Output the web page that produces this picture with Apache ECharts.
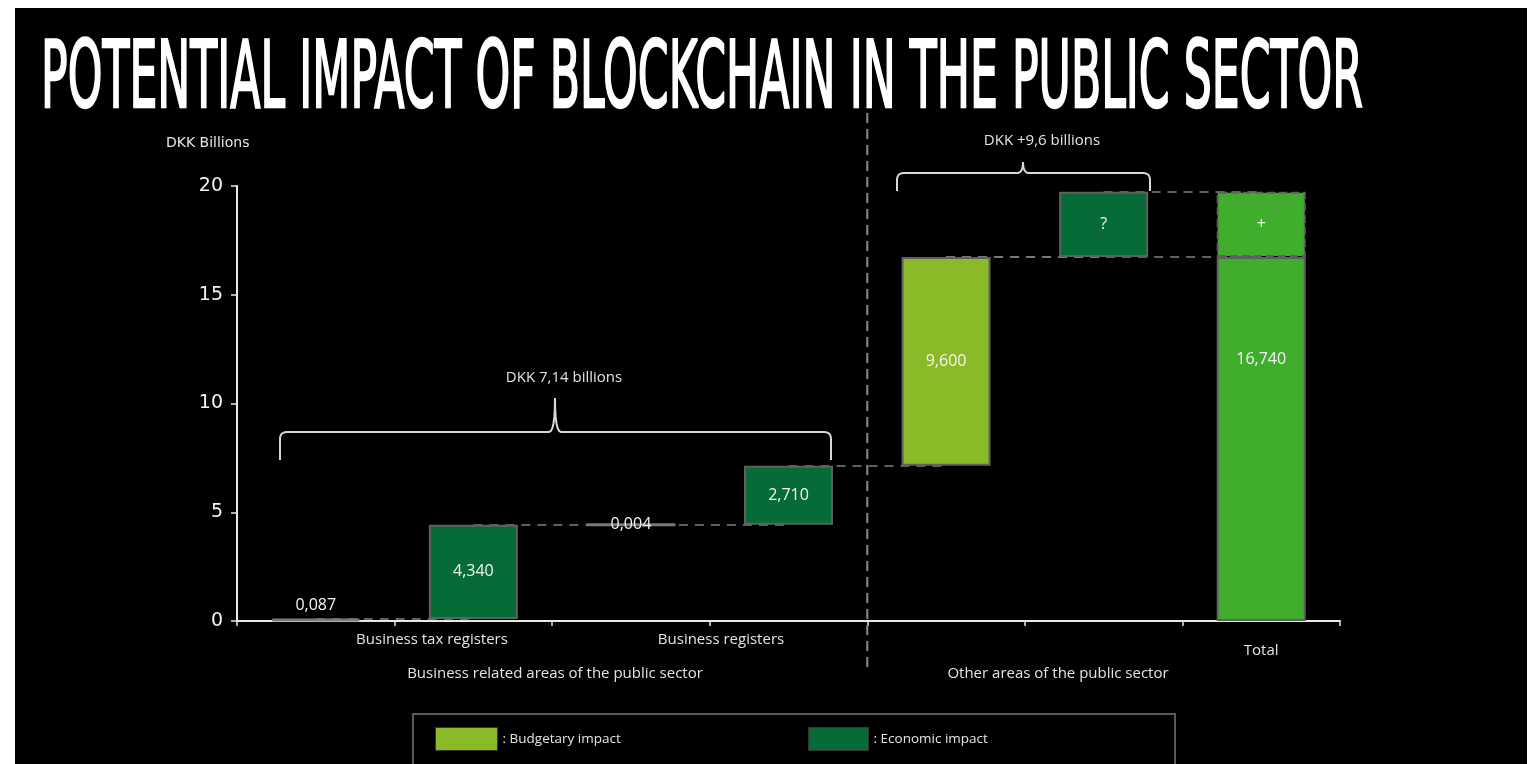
<!DOCTYPE html>
<html><head><meta charset="utf-8">
<script src="https://cdn.jsdelivr.net/npm/echarts@6/dist/echarts.min.js"></script>
<style>html,body{margin:0;padding:0;background:#fff;}#c{width:1535px;height:764px;}</style>
</head><body><div id="c"></div>
<script>
// ---- data ----
const categories = ['Tax A', 'Tax B', 'Reg A', 'Reg B', 'Other A', 'Other B', 'Total'];
const axisLabelNames = ['', '', '', '', '', '', 'Total'];
const greyValues = [0.087, null, 0.004, null, null, null, null];
const economicValues = [null, 4.34, null, 2.71, null, null, null];
const unknownEconomicValues = [null, null, null, null, null, 3.0, null];
const budgetaryValues = [null, null, null, null, 9.6, null, null];
const totalValues = [null, null, null, null, null, null, 16.74];
const plusValues = [null, null, null, null, null, null, 3.0];
const yTicks = [0, 5, 10, 15, 20];
const titleText = 'POTENTIAL IMPACT OF BLOCKCHAIN IN THE PUBLIC SECTOR';
const groupLabels = ['Business related areas of the public sector', 'Other areas of the public sector'];
const subLabels = ['Business tax registers', 'Business registers'];
const braceLabels = ['DKK 7,14 billions', 'DKK +9,6 billions'];
const unitLabel = 'DKK Billions';
const legendNames = ['Budgetary impact', 'Economic impact'];

// ---- derived waterfall bases ----
const stepValues = categories.map((c, i) =>
  (greyValues[i] || 0) + (economicValues[i] || 0) + (unknownEconomicValues[i] || 0) + (budgetaryValues[i] || 0));
const baseValues = [];
const cumValues = [];
let run = 0;
for (let i = 0; i < categories.length; i++) {
  if (totalValues[i] != null) { baseValues.push(0); cumValues.push((totalValues[i] || 0) + (plusValues[i] || 0)); continue; }
  baseValues.push(+run.toFixed(4));
  run += stepValues[i];
  cumValues.push(+run.toFixed(4));
}
const fmt = v => v.toFixed(3).replace('.', ',');

// ---- layout constants ----
const G = { left: 237, top: 186, right: 195, bottom: 143 };
const W = 1535, H = 764;
const plotW = W - G.left - G.right;
const band = plotW / categories.length;

const GREEN_LIGHT = '#8aba28', GREEN_DARK = '#066b36', GREEN_TOTAL = '#40ae2c', GREY = '#7a7a7a';
const BORDER = '#606060';
const TXT = '#e3e3e3';
const SANS = '"Open Sans", "Noto Sans", sans-serif';

const chart = echarts.init(document.getElementById('c'), null, { renderer: 'canvas' });

// connectors between consecutive bars
const connectors = [];
for (let i = 0; i < categories.length - 1; i++) {
  const lvl = cumValues[i];
  connectors.push([{ coord: [i, lvl] }, { coord: [i + 1, lvl] }]);
}
const lastStepIdx = categories.length - 2;
connectors.push([{ coord: [lastStepIdx - 1, baseValues[lastStepIdx]] }, { coord: [categories.length - 1, baseValues[lastStepIdx]] }]);

const barCommon = {
  type: 'bar', stack: 'wf', barWidth: '56.5%', z: 5,
  itemStyle: { borderColor: BORDER, borderWidth: 2 },
  label: { show: true, color: '#f4f4f4', fontFamily: SANS, fontSize: 16, position: 'inside' }
};

// title measurement
const mc = document.createElement('canvas').getContext('2d');
const titleFont = '93px "DejaVu Sans"';
mc.font = titleFont;
const titleNatural = mc.measureText(titleText).width;
const titleScale = (1363 - 41) / titleNatural;

function quad(p0, p1, p2, n) {
  const out = [];
  for (let k = 1; k <= n; k++) {
    const t = k / n;
    out.push([(1 - t) * (1 - t) * p0[0] + 2 * (1 - t) * t * p1[0] + t * t * p2[0],
              (1 - t) * (1 - t) * p0[1] + 2 * (1 - t) * t * p1[1] + t * t * p2[1]]);
  }
  return out;
}
function brace(x1, x2, xm, yEnd, yLine, yTip) {
  const r = 7;
  let pts = [[x1, yEnd], [x1, yLine + r]];
  pts = pts.concat(quad([x1, yLine + r], [x1, yLine], [x1 + r, yLine], 6));
  pts.push([xm - 6, yLine]);
  pts = pts.concat(quad([xm - 6, yLine], [xm, yLine], [xm, yTip], 6));
  pts = pts.concat(quad([xm, yTip], [xm, yLine], [xm + 6, yLine], 6));
  pts.push([x2 - r, yLine]);
  pts = pts.concat(quad([x2 - r, yLine], [x2, yLine], [x2, yLine + r], 6));
  pts.push([x2, yEnd]);
  return pts;
}

const dividerX = G.left + band * 4;

const option = {
  backgroundColor: '#ffffff',
  animation: false,
  grid: { left: G.left, top: G.top, right: G.right, bottom: G.bottom, containLabel: false },
  legend: [
    { data: [legendNames[0]], left: 435, top: 727, padding: 0, itemWidth: 62, itemHeight: 23, icon: 'rect',
      itemStyle: { borderWidth: 1, borderColor: '#333' },
      formatter: n => ': ' + n, textStyle: { color: TXT, fontFamily: SANS, fontSize: 13.5 }, selectedMode: false },
    { data: [legendNames[1]], left: 808, top: 727, padding: 0, itemWidth: 60, itemHeight: 23, icon: 'rect',
      itemStyle: { borderWidth: 1, borderColor: '#333' },
      formatter: n => ': ' + n, textStyle: { color: TXT, fontFamily: SANS, fontSize: 13.5 }, selectedMode: false }
  ],
  xAxis: {
    type: 'category', data: categories,
    axisLine: { lineStyle: { color: '#e8e8e8', width: 2 } },
    axisTick: { show: true, length: 5, lineStyle: { color: '#e8e8e8', width: 1.5 } },
    axisLabel: { formatter: (v, i) => axisLabelNames[i], color: TXT, fontFamily: SANS, fontSize: 15, margin: 22 }
  },
  yAxis: {
    type: 'value', min: yTicks[0], max: yTicks[yTicks.length - 1], interval: yTicks[1] - yTicks[0],
    axisLine: { show: true, lineStyle: { color: '#e8e8e8', width: 2 } },
    axisTick: { show: true, length: 6, lineStyle: { color: '#e8e8e8', width: 1.5 } },
    splitLine: { show: false },
    axisLabel: { color: '#f2f2f2', fontFamily: '"DejaVu Sans", Verdana, sans-serif', fontSize: 19, margin: 14 }
  },
  series: [
    {
      name: 'base', type: 'bar', stack: 'wf', barWidth: '56.5%', z: 1,
      itemStyle: { color: 'rgba(0,0,0,0)', borderWidth: 0 }, data: baseValues, silent: true,
      markLine: {
        z: 1, silent: true, symbol: 'none', label: { show: false },
        lineStyle: { color: '#808080', type: [9, 7], width: 1.5 },
        data: connectors
      }
    },
    Object.assign({}, barCommon, {
      name: 'grey', data: greyValues.map((v, i) => v == null ? null : {
        value: v,
        label: i === 0 ? { position: 'top', distance: 5 } : { position: 'inside' }
      }),
      itemStyle: { color: GREY, borderColor: GREY, borderWidth: 3 },
      label: Object.assign({}, barCommon.label, { formatter: p => fmt(p.value) })
    }),
    Object.assign({}, barCommon, {
      name: legendNames[1], data: economicValues,
      itemStyle: Object.assign({}, barCommon.itemStyle, { color: GREEN_DARK }),
      label: Object.assign({}, barCommon.label, { formatter: p => fmt(p.value) })
    }),
    Object.assign({}, barCommon, {
      name: legendNames[1], data: unknownEconomicValues,
      itemStyle: Object.assign({}, barCommon.itemStyle, { color: GREEN_DARK }),
      label: Object.assign({}, barCommon.label, { formatter: '?' })
    }),
    Object.assign({}, barCommon, {
      name: legendNames[0], data: budgetaryValues,
      itemStyle: Object.assign({}, barCommon.itemStyle, { color: GREEN_LIGHT }),
      label: Object.assign({}, barCommon.label, { formatter: p => fmt(p.value) })
    }),
    Object.assign({}, barCommon, {
      name: 'Total', data: totalValues,
      itemStyle: Object.assign({}, barCommon.itemStyle, { color: GREEN_TOTAL }),
      label: Object.assign({}, barCommon.label, { formatter: p => fmt(p.value), position: ['50%', 103], align: 'center', verticalAlign: 'middle' })
    }),
    Object.assign({}, barCommon, {
      name: 'plus', data: plusValues,
      itemStyle: { color: GREEN_TOTAL, borderColor: BORDER, borderWidth: 2, borderType: 'dashed' },
      label: Object.assign({}, barCommon.label, { formatter: '+' })
    })
  ],
  graphic: [
    { type: 'rect', z: -10, silent: true, shape: { x: 15, y: 8, width: 1512, height: 756 }, style: { fill: '#000' } },
    { type: 'text', z: 10, x: 41, y: 83, scaleX: titleScale,
      style: { text: titleText, font: titleFont, fill: '#ffffff', stroke: '#ffffff', lineWidth: 2.5, verticalAlign: 'middle', align: 'left' } },
    { type: 'text', z: 10, x: 166, y: 143, style: { text: unitLabel, fill: '#e6e6e6', font: '14px "DejaVu Sans", sans-serif', verticalAlign: 'middle' } },
    { type: 'line', z: 3, shape: { x1: dividerX, y1: 113, x2: dividerX, y2: 668 },
      style: { stroke: '#8a8a8a', lineWidth: 2, lineDash: [10, 6] } },
    { type: 'polyline', z: 10, shape: { points: brace(280, 831, 555, 460, 432, 398) }, style: { stroke: '#d8d8d8', lineWidth: 2, fill: null } },
    { type: 'polyline', z: 10, shape: { points: brace(897, 1150, 1023, 191, 173, 162) }, style: { stroke: '#d8d8d8', lineWidth: 2, fill: null } },
    { type: 'text', z: 10, x: 564, y: 378, style: { text: braceLabels[0], fill: TXT, font: '15px ' + SANS, align: 'center', verticalAlign: 'middle' } },
    { type: 'text', z: 10, x: 1042, y: 141, style: { text: braceLabels[1], fill: TXT, font: '15px ' + SANS, align: 'center', verticalAlign: 'middle' } },
    { type: 'text', z: 10, x: 432, y: 640, style: { text: subLabels[0], fill: TXT, font: '15px ' + SANS, align: 'center', verticalAlign: 'middle' } },
    { type: 'text', z: 10, x: 721, y: 640, style: { text: subLabels[1], fill: TXT, font: '15px ' + SANS, align: 'center', verticalAlign: 'middle' } },
    { type: 'text', z: 10, x: 555, y: 674, style: { text: groupLabels[0], fill: TXT, font: '15px ' + SANS, align: 'center', verticalAlign: 'middle' } },
    { type: 'text', z: 10, x: 1058, y: 674, style: { text: groupLabels[1], fill: TXT, font: '15px ' + SANS, align: 'center', verticalAlign: 'middle' } },
    { type: 'rect', z: 2, shape: { x: 413, y: 714, width: 762, height: 60 }, style: { fill: null, stroke: '#5a5a5a', lineWidth: 2 } }
  ]
};
chart.setOption(option);
</script></body></html>
